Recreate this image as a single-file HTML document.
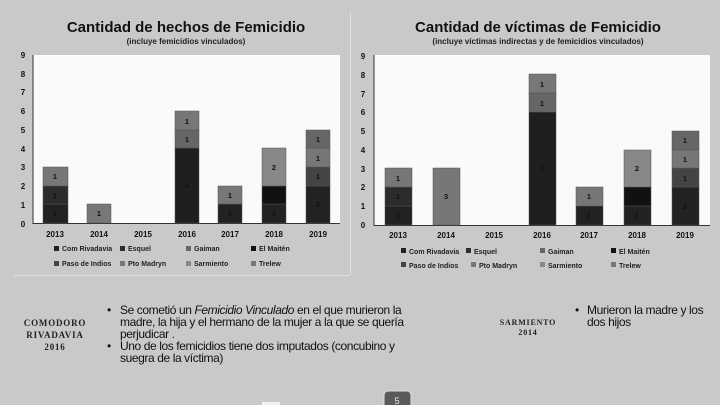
<!DOCTYPE html>
<html><head><meta charset="utf-8"><style>
html,body{margin:0;padding:0;background:#c9c9c9;width:720px;height:405px;overflow:hidden}
svg{display:block}
</style></head><body>
<svg width="720" height="405" xmlns="http://www.w3.org/2000/svg" font-family="'Liberation Sans',sans-serif">
<rect width="720" height="405" fill="#c9c9c9"/>
<line x1="350.5" y1="12" x2="350.5" y2="275" stroke="#e2e2e2" stroke-width="1"/>
<line x1="14" y1="275.5" x2="350" y2="275.5" stroke="#e2e2e2" stroke-width="1"/>

<!-- LEFT CHART -->
<text x="186" y="32" font-size="15" font-weight="bold" text-anchor="middle" fill="#111">Cantidad de hechos de Femicidio</text>
<text x="186" y="44" font-size="8" font-weight="bold" text-anchor="middle" fill="#222">(incluye femicidios vinculados)</text>
<rect x="33" y="55" width="307" height="168" fill="#fafafa"/>
<line x1="33" y1="55" x2="33" y2="224" stroke="#333"/>
<line x1="33" y1="223.5" x2="340" y2="223.5" stroke="#333"/>
<g font-size="8" font-weight="bold" fill="#111" text-anchor="middle">
<text x="23" y="58">9</text><text x="23" y="77">8</text><text x="23" y="95">7</text><text x="23" y="114">6</text><text x="23" y="133">5</text><text x="23" y="152">4</text><text x="23" y="170">3</text><text x="23" y="189">2</text><text x="23" y="208">1</text><text x="23" y="227">0</text>
<text x="55" y="237">2013</text><text x="99" y="237">2014</text><text x="143" y="237">2015</text><text x="187" y="237">2016</text><text x="230" y="237">2017</text><text x="274" y="237">2018</text><text x="318" y="237">2019</text>
</g>
<g stroke="#555" stroke-width="0.5">
<rect x="43" y="204" width="25" height="19" fill="#222"/>
<rect x="43" y="186" width="25" height="18" fill="#2c2c2c"/>
<rect x="43" y="167" width="25" height="19" fill="#777"/>
<rect x="87" y="204" width="24" height="19" fill="#777"/>
<rect x="175" y="148" width="24" height="75" fill="#1f1f1f"/>
<rect x="175" y="130" width="24" height="18" fill="#666"/>
<rect x="175" y="111" width="24" height="19" fill="#777"/>
<rect x="218" y="204" width="24" height="19" fill="#222"/>
<rect x="218" y="186" width="24" height="18" fill="#777"/>
<rect x="262" y="204" width="24" height="19" fill="#222"/>
<rect x="262" y="186" width="24" height="18" fill="#111"/>
<rect x="262" y="148" width="24" height="38" fill="#888"/>
<rect x="306" y="186" width="24" height="37" fill="#222"/>
<rect x="306" y="167" width="24" height="19" fill="#444"/>
<rect x="306" y="148" width="24" height="19" fill="#777"/>
<rect x="306" y="130" width="24" height="18" fill="#666"/>
</g>
<g font-size="7.5" font-weight="bold" fill="#111" text-anchor="middle">
<text x="55" y="216">1</text><text x="55" y="198">1</text><text x="55" y="179">1</text>
<text x="99" y="216">1</text>
<text x="187" y="188">4</text><text x="187" y="142">1</text><text x="187" y="124">1</text>
<text x="230" y="216">1</text><text x="230" y="198">1</text>
<text x="274" y="216">1</text><text x="274" y="170">2</text>
<text x="318" y="207">2</text><text x="318" y="179">1</text><text x="318" y="161">1</text><text x="318" y="142">1</text>
</g>
<g font-size="7" font-weight="bold" fill="#222">
<rect x="54" y="246" width="5" height="5" fill="#222"/><text x="62" y="251">Com Rivadavia</text>
<rect x="120" y="246" width="5" height="5" fill="#2c2c2c"/><text x="128" y="251">Esquel</text>
<rect x="186" y="246" width="5" height="5" fill="#666"/><text x="194" y="251">Gaiman</text>
<rect x="251" y="246" width="5" height="5" fill="#111"/><text x="259" y="251">El Maitén</text>
<rect x="54" y="261" width="5" height="5" fill="#444"/><text x="62" y="266">Paso de Indios</text>
<rect x="120" y="261" width="5" height="5" fill="#777"/><text x="128" y="266">Pto Madryn</text>
<rect x="186" y="261" width="5" height="5" fill="#888"/><text x="194" y="266">Sarmiento</text>
<rect x="251" y="261" width="5" height="5" fill="#777"/><text x="259" y="266">Trelew</text>
</g>

<!-- RIGHT CHART -->
<text x="538" y="32" font-size="15" font-weight="bold" text-anchor="middle" fill="#111">Cantidad de víctimas de Femicidio</text>
<text x="538" y="44" font-size="8" font-weight="bold" text-anchor="middle" fill="#222">(incluye víctimas indirectas y de femicidios vinculados)</text>
<rect x="374" y="55" width="336" height="170" fill="#fafafa"/>
<line x1="374" y1="55" x2="374" y2="226" stroke="#333"/>
<line x1="374" y1="225.5" x2="710" y2="225.5" stroke="#333"/>
<g font-size="8" font-weight="bold" fill="#111" text-anchor="middle">
<text x="363" y="59">9</text><text x="363" y="78">8</text><text x="363" y="97">7</text><text x="363" y="115">6</text><text x="363" y="134">5</text><text x="363" y="153">4</text><text x="363" y="172">3</text><text x="363" y="190">2</text><text x="363" y="209">1</text><text x="363" y="228">0</text>
<text x="398" y="238">2013</text><text x="446" y="238">2014</text><text x="494" y="238">2015</text><text x="542" y="238">2016</text><text x="589" y="238">2017</text><text x="637" y="238">2018</text><text x="685" y="238">2019</text>
</g>
<g stroke="#555" stroke-width="0.5">
<rect x="385" y="206" width="27" height="19" fill="#222"/>
<rect x="385" y="187" width="27" height="19" fill="#2c2c2c"/>
<rect x="385" y="168" width="27" height="19" fill="#777"/>
<rect x="433" y="168" width="27" height="57" fill="#777"/>
<rect x="529" y="112" width="27" height="113" fill="#1f1f1f"/>
<rect x="529" y="93" width="27" height="19" fill="#666"/>
<rect x="529" y="74" width="27" height="19" fill="#777"/>
<rect x="576" y="206" width="27" height="19" fill="#222"/>
<rect x="576" y="187" width="27" height="19" fill="#777"/>
<rect x="624" y="206" width="27" height="19" fill="#222"/>
<rect x="624" y="187" width="27" height="19" fill="#111"/>
<rect x="624" y="150" width="27" height="37" fill="#888"/>
<rect x="672" y="187" width="27" height="38" fill="#222"/>
<rect x="672" y="168" width="27" height="19" fill="#444"/>
<rect x="672" y="150" width="27" height="18" fill="#777"/>
<rect x="672" y="131" width="27" height="19" fill="#666"/>
</g>
<g font-size="7.5" font-weight="bold" fill="#111" text-anchor="middle">
<text x="398" y="218">1</text><text x="398" y="199">1</text><text x="398" y="181">1</text>
<text x="446" y="199">3</text>
<text x="542" y="171">6</text><text x="542" y="106">1</text><text x="542" y="87">1</text>
<text x="589" y="218">1</text><text x="589" y="199">1</text>
<text x="637" y="218">1</text><text x="637" y="171">2</text>
<text x="685" y="209">2</text><text x="685" y="181">1</text><text x="685" y="162">1</text><text x="685" y="143">1</text>
</g>
<g font-size="7" font-weight="bold" fill="#222">
<rect x="401" y="248" width="5" height="5" fill="#222"/><text x="409" y="254">Com Rivadavia</text>
<rect x="466" y="248" width="5" height="5" fill="#2c2c2c"/><text x="474" y="254">Esquel</text>
<rect x="540" y="248" width="5" height="5" fill="#666"/><text x="548" y="254">Gaiman</text>
<rect x="611" y="248" width="5" height="5" fill="#111"/><text x="619" y="254">El Maitén</text>
<rect x="401" y="262" width="5" height="5" fill="#444"/><text x="409" y="268">Paso de Indios</text>
<rect x="471" y="262" width="5" height="5" fill="#777"/><text x="479" y="268">Pto Madryn</text>
<rect x="540" y="262" width="5" height="5" fill="#888"/><text x="548" y="268">Sarmiento</text>
<rect x="611" y="262" width="5" height="5" fill="#777"/><text x="619" y="268">Trelew</text>
</g>

<!-- BOTTOM TEXT -->
<g font-family="'Liberation Serif',serif" font-size="9" font-weight="bold" fill="#222" text-anchor="middle" letter-spacing="0.8">
<text x="55" y="326">COMODORO</text><text x="55" y="338">RIVADAVIA</text><text x="55" y="350">2016</text>
<text x="528" y="325" font-size="8">SARMIENTO</text><text x="528" y="335" font-size="8">2014</text>
</g>
<g font-size="12" fill="#111" letter-spacing="-0.4">
<text x="107" y="314">•</text>
<text x="120" y="314">Se cometió un <tspan font-style="italic">Femicidio Vinculado</tspan> en el que murieron la</text>
<text x="120" y="326">madre, la hija y el hermano de la mujer a la que se quería</text>
<text x="120" y="338">perjudicar .</text>
<text x="107" y="350">•</text>
<text x="120" y="350">Uno de los femicidios tiene dos imputados (concubino y</text>
<text x="120" y="362">suegra de la víctima)</text>
<text x="575" y="314">•</text>
<text x="587" y="314">Murieron la madre y los</text>
<text x="587" y="326">dos hijos</text>
</g>
<rect x="384" y="391" width="27" height="20" rx="4" fill="#5a5a5a" stroke="#e0e0e0" stroke-width="1"/>
<text x="397" y="404" font-size="9" fill="#eee" text-anchor="middle">5</text>
<rect x="262" y="402" width="18" height="3" fill="#f2f2f2"/>
</svg>
</body></html>
